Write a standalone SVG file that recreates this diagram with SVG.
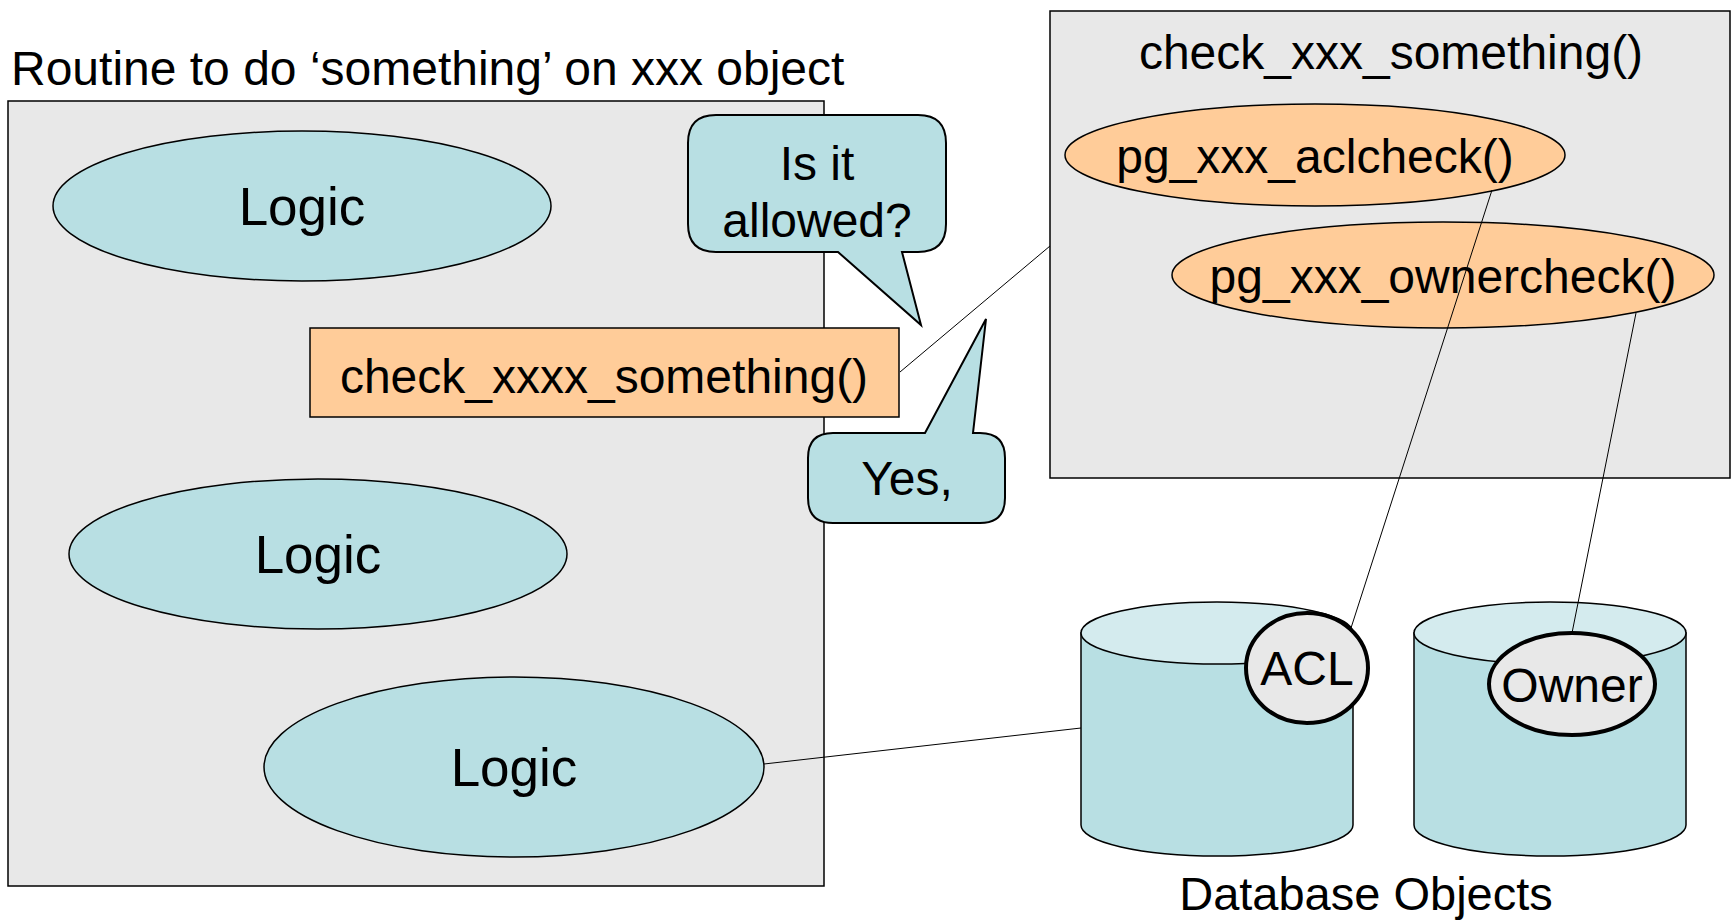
<svg xmlns="http://www.w3.org/2000/svg" width="1736" height="922" viewBox="0 0 1736 922">
<style>
.t{font-family:"Liberation Sans",Arial,sans-serif;fill:#000;}
.box{fill:#e8e8e8;stroke:#000;stroke-width:1.5;}
.cyan{fill:#b8dfe3;stroke:#000;stroke-width:1.5;}
.orange{fill:#ffcc99;stroke:#000;stroke-width:1.5;}
.lid{fill:#d4ebee;stroke:#000;stroke-width:1.5;}
.tag{fill:#e8e8e8;stroke:#000;stroke-width:4;}
.call{fill:#b8dfe3;stroke:#000;stroke-width:2;}
.conn{stroke:#000;stroke-width:1;fill:none;}
</style>
<rect width="1736" height="922" fill="#fff"/>
<g id="routine">
<text class="t" x="11" y="85" font-size="48">Routine to do ‘something’ on xxx object</text>
<rect class="box" x="8" y="101" width="816" height="785"/>
</g>
<g id="logic1"><ellipse class="cyan" cx="302" cy="206" rx="249" ry="75"/><text class="t" x="302" y="225" font-size="53" text-anchor="middle">Logic</text></g>
<g id="logic2"><ellipse class="cyan" cx="318" cy="554" rx="249" ry="75"/><text class="t" x="318" y="573" font-size="53" text-anchor="middle">Logic</text></g>
<g id="logic3"><ellipse class="cyan" cx="514" cy="767" rx="250" ry="90"/><text class="t" x="514" y="786" font-size="53" text-anchor="middle">Logic</text></g>
<g id="checkxxxx"><rect class="orange" x="310" y="328" width="589" height="89"/><text class="t" x="604" y="393" font-size="48" text-anchor="middle">check_xxxx_something()</text></g>
<g id="checkbox">
<rect class="box" x="1050" y="11" width="680" height="467"/>
<text class="t" x="1391" y="69" font-size="48" text-anchor="middle">check_xxx_something()</text>
</g>
<g id="aclcheck"><ellipse class="orange" cx="1315" cy="155" rx="250" ry="51"/><text class="t" x="1315" y="173" font-size="48" text-anchor="middle">pg_xxx_aclcheck()</text></g>
<g id="ownercheck"><ellipse class="orange" cx="1443" cy="275" rx="271" ry="53"/><text class="t" x="1443" y="293" font-size="48" text-anchor="middle">pg_xxx_ownercheck()</text></g>
<g id="db1">
<path class="cyan" d="M1081,633 V825 A136,31 0 0 0 1353,825 V633 Z"/>
<ellipse class="lid" cx="1217" cy="633" rx="136" ry="31"/>
</g>
<g id="db2">
<path class="cyan" d="M1414,633 V825 A136,31 0 0 0 1686,825 V633 Z"/>
<ellipse class="lid" cx="1550" cy="633" rx="136" ry="31"/>
</g>
<g id="acl"><ellipse class="tag" cx="1307" cy="668" rx="61" ry="55"/><text class="t" x="1307" y="685" font-size="48" text-anchor="middle">ACL</text></g>
<g id="owner"><ellipse class="tag" cx="1572" cy="684" rx="83" ry="51"/><text class="t" x="1572" y="702" font-size="48" text-anchor="middle">Owner</text></g>
<g id="dblabel"><text class="t" x="1366" y="910" font-size="47" text-anchor="middle">Database Objects</text></g>
<g id="connectors">
<line class="conn" x1="764" y1="764" x2="1081" y2="728"/>
<line class="conn" x1="900" y1="372" x2="1050" y2="246"/>
<line class="conn" x1="1492" y1="190" x2="1351" y2="628"/>
<line class="conn" x1="1636" y1="313" x2="1572" y2="633"/>
</g>
<g id="callout-ask">
<path class="call" d="M716,115 H918 Q946,115 946,143 V224 Q946,252 918,252 H902 L921,325 L838,252 H716 Q688,252 688,224 V143 Q688,115 716,115 Z"/>
<text class="t" x="817" y="180" font-size="48" text-anchor="middle">Is it</text>
<text class="t" x="817" y="237" font-size="48" text-anchor="middle">allowed?</text>
</g>
<g id="callout-yes">
<path class="call" d="M833,433 H925 L986,319 L973,433 H980 Q1005,433 1005,458 V498 Q1005,523 980,523 H833 Q808,523 808,498 V458 Q808,433 833,433 Z"/>
<text class="t" x="907" y="495" font-size="48" text-anchor="middle">Yes,</text>
</g>
</svg>
